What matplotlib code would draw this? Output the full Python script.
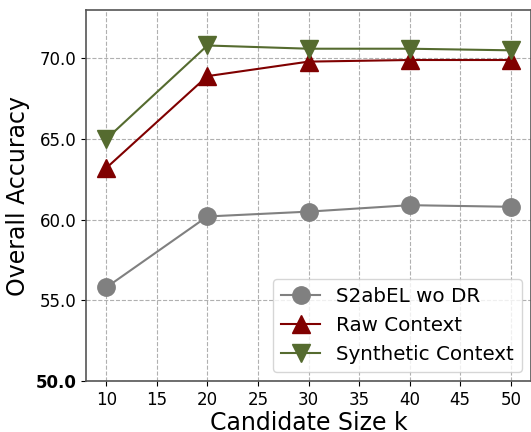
import matplotlib
matplotlib.use("Agg")
import matplotlib.pyplot as plt

k = [10, 20, 30, 40, 50]
s2abel = [55.8, 60.2, 60.5, 60.9, 60.8]
raw = [63.2, 68.9, 69.8, 69.9, 69.9]
synthetic = [65.0, 70.8, 70.6, 70.6, 70.5]
yticks = [50.0, 55.0, 60.0, 65.0, 70.0]

fig = plt.figure(figsize=(5.31, 4.32), dpi=100)
ax = fig.add_axes([86/531, 1-381/432, (531-86)/531, (381-10)/432])

ax.plot(k, s2abel, color='#808080', marker='o', markersize=12.5, linewidth=1.5, label='S2abEL wo DR')
ax.plot(k, raw, color='#800000', marker='^', markersize=12.5, linewidth=1.5, label='Raw Context')
ax.plot(k, synthetic, color='#556B2F', marker='v', markersize=12.5, linewidth=1.5, label='Synthetic Context')

ax.set_xlim(8, 52)
ax.set_ylim(50, 73)
ax.set_xticks([10, 15, 20, 25, 30, 35, 40, 45, 50])
ax.set_yticks(yticks)
ax.set_yticklabels([f"{v:.1f}" for v in yticks])
ax.get_yticklabels()[0].set_fontweight('bold')
ax.tick_params(labelsize=12)
ax.grid(True, linestyle='--', color='#b0b0b0', linewidth=0.8)
for s in ax.spines.values():
    s.set_color('#555555')
    s.set_linewidth(1.2)
ax.set_xlabel('Candidate Size k', fontsize=17, labelpad=1.5)
ax.set_ylabel('Overall Accuracy', fontsize=17)
ax.legend(loc='lower right', fontsize=14.3, bbox_to_anchor=(1.0, 0.0), borderaxespad=0.45)

fig.savefig('out.png', dpi=100)
